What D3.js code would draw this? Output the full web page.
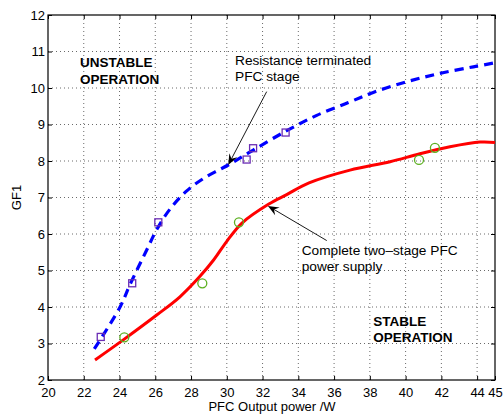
<!DOCTYPE html>
<html>
<head>
<meta charset="utf-8">
<script src="https://cdn.jsdelivr.net/npm/d3@7"></script>
<style>
  body { margin: 0; background: #fff; }
  svg { display: block; font-family: "Liberation Sans", Arial, sans-serif; }
</style>
</head>
<body>
<div id="chart"></div>
<script>
// Curve "Resistance terminated PFC stage" (blue dashed)
const resistCurveX = [22.59, 24.03, 24.6, 25.52, 26.08, 26.82, 27.76, 28.69, 29.53, 30.08, 31.48, 33.35, 35.03, 36.8, 38.19, 40.06, 41.92, 43.79, 45];
const resistCurveY = [2.85, 4.0, 4.63, 5.56, 6.12, 6.68, 7.18, 7.52, 7.75, 7.89, 8.3, 8.83, 9.25, 9.6, 9.88, 10.17, 10.4, 10.58, 10.69];
// Curve "Complete two-stage PFC power supply" (red solid)
const completeCurveX = [22.63, 24.21, 26.08, 27.38, 28.5, 29.25, 30.0, 30.85, 32.35, 33.35, 34.6, 36.89, 39.13, 40.8, 42.48, 44.16, 45];
const completeCurveY = [2.55, 3.1, 3.78, 4.28, 4.84, 5.28, 5.8, 6.3, 6.82, 7.08, 7.4, 7.75, 7.98, 8.2, 8.39, 8.52, 8.51];
// measured points
const squareX = [22.95, 24.71, 26.17, 31.11, 31.47, 33.29];
const squareY = [3.18, 4.65, 6.32, 8.04, 8.35, 8.78];
const circleX = [24.27, 28.63, 30.68, 40.75, 41.64];
const circleY = [3.17, 4.65, 6.32, 8.03, 8.36];

const xTicks = [20, 22, 24, 26, 28, 30, 32, 34, 36, 38, 40, 42, 44, 45];
const yTicks = [2, 3, 4, 5, 6, 7, 8, 9, 10, 11, 12];

const margin = { top: 15, right: 8, bottom: 37, left: 48 };
const W = 503, H = 417;
const width = W - margin.left - margin.right;
const height = H - margin.top - margin.bottom;

const svg = d3.select("#chart").append("svg")
    .attr("width", W)
    .attr("height", H);
const g = svg.append("g")
    .attr("transform", `translate(${margin.left},${margin.top})`);

const x = d3.scaleLinear().domain([20, 45]).range([0, width]);
const y = d3.scaleLinear().domain([2, 12]).range([height, 0]);

// dotted grid
g.append("g")
    .selectAll("line")
    .data(xTicks.filter(d => d > 20 && d < 45))
    .join("line")
    .attr("x1", d => x(d)).attr("x2", d => x(d))
    .attr("y1", 0).attr("y2", height)
    .attr("stroke", "#444").attr("stroke-width", 0.8)
    .attr("stroke-dasharray", "1,3");
g.append("g")
    .selectAll("line")
    .data(yTicks.filter(d => d > 2 && d < 12))
    .join("line")
    .attr("x1", 0).attr("x2", width)
    .attr("y1", d => y(d)).attr("y2", d => y(d))
    .attr("stroke", "#444").attr("stroke-width", 0.8)
    .attr("stroke-dasharray", "1,3");

// axes with inward ticks, box on
const tl = 4;
g.append("g")
    .attr("transform", `translate(0,${height})`)
    .call(d3.axisBottom(x).tickValues(xTicks).tickSize(-tl).tickPadding(8).tickFormat(d3.format("d")))
    .call(a => a.select(".domain").remove())
    .call(a => a.selectAll("text").attr("font-size", 13).attr("fill", "#000").attr("font-family", "Liberation Sans, Arial, sans-serif"));
g.append("g")
    .call(d3.axisLeft(y).tickValues(yTicks).tickSize(-tl).tickPadding(3).tickFormat(d3.format("d")))
    .call(a => a.select(".domain").remove())
    .call(a => a.selectAll("text").attr("font-size", 13).attr("fill", "#000").attr("font-family", "Liberation Sans, Arial, sans-serif"));
g.append("g")
    .call(d3.axisTop(x).tickValues(xTicks).tickSize(-tl).tickFormat(""))
    .call(a => a.select(".domain").remove());
g.append("g")
    .attr("transform", `translate(${width},0)`)
    .call(d3.axisRight(y).tickValues(yTicks).tickSize(-tl).tickFormat(""))
    .call(a => a.select(".domain").remove());

g.append("rect")
    .attr("width", width).attr("height", height)
    .attr("fill", "none").attr("stroke", "#000").attr("stroke-width", 1.2);

// curves
const line = d3.line()
    .x(d => x(d[0]))
    .y(d => y(d[1]))
    .curve(d3.curveCatmullRom.alpha(0.5));

g.append("path")
    .datum(completeCurveX.map((v, i) => [v, completeCurveY[i]]))
    .attr("fill", "none")
    .attr("stroke", "#ff0000")
    .attr("stroke-width", 3)
    .attr("d", line);

g.append("path")
    .datum(resistCurveX.map((v, i) => [v, resistCurveY[i]]))
    .attr("fill", "none")
    .attr("stroke", "#0000ff")
    .attr("stroke-width", 3.2)
    .attr("stroke-dasharray", "9,6")
    .attr("d", line);

// markers
g.append("g")
    .selectAll("rect")
    .data(squareX.map((v, i) => [v, squareY[i]]))
    .join("rect")
    .attr("x", d => x(d[0]) - 3.5)
    .attr("y", d => y(d[1]) - 3.5)
    .attr("width", 7).attr("height", 7)
    .attr("fill", "none")
    .attr("stroke", "#6a2cb4")
    .attr("stroke-width", 1.3);

g.append("g")
    .selectAll("circle")
    .data(circleX.map((v, i) => [v, circleY[i]]))
    .join("circle")
    .attr("cx", d => x(d[0]))
    .attr("cy", d => y(d[1]))
    .attr("r", 4.5)
    .attr("fill", "none")
    .attr("stroke", "#5cb020")
    .attr("stroke-width", 1.3);

// annotations
function arrow(from, to) {
    const x1 = x(from[0]), y1 = y(from[1]);
    const x2 = x(to[0]), y2 = y(to[1]);
    const ang = Math.atan2(y2 - y1, x2 - x1);
    const len = 11, hw = 4.5, notch = 7;
    const ux = Math.cos(ang), uy = Math.sin(ang);
    const px = -uy, py = ux;
    g.append("line")
        .attr("x1", x1).attr("y1", y1)
        .attr("x2", x2 - ux * notch).attr("y2", y2 - uy * notch)
        .attr("stroke", "#000").attr("stroke-width", 0.9);
    const pts = [
        [x2, y2],
        [x2 - ux * len + px * hw, y2 - uy * len + py * hw],
        [x2 - ux * notch, y2 - uy * notch],
        [x2 - ux * len - px * hw, y2 - uy * len - py * hw]
    ];
    g.append("path")
        .attr("d", "M" + pts.map(p => p.join(",")).join("L") + "Z")
        .attr("fill", "#000");
}

function label(pos, lines, bold, lh) {
    const t = g.append("text")
        .attr("x", x(pos[0]))
        .attr("y", y(pos[1]))
        .attr("font-size", bold ? 13.5 : 13.7)
        .attr("font-weight", bold ? "bold" : "normal")
        .attr("fill", "#000");
    lines.forEach((s, i) => {
        t.append("tspan")
            .attr("x", x(pos[0]))
            .attr("dy", i === 0 ? 0 : lh)
            .text(s);
    });
}

label([21.79, 10.575], ["UNSTABLE", "OPERATION"], true, 17);
label([38.19, 3.49], ["STABLE", "OPERATION"], true, 16);
label([30.46, 10.63], ["Resistance terminated", "PFC stage"], false, 15.5);
label([34.19, 5.42], ["Complete two\u2013stage PFC", "power supply"], false, 15.5);

arrow([32.23, 9.9], [30.08, 7.89]);
arrow([35.59, 5.82], [32.3, 6.77]);

// axis titles
svg.append("text")
    .attr("x", margin.left + width / 2 + 0.5)
    .attr("y", 411)
    .attr("text-anchor", "middle")
    .attr("font-size", 13)
    .text("PFC Output power /W");

svg.append("text")
    .attr("transform", `translate(21,${margin.top + height / 2}) rotate(-90)`)
    .attr("text-anchor", "middle")
    .attr("font-size", 13)
    .text("GF1");
</script>
</body>
</html>
